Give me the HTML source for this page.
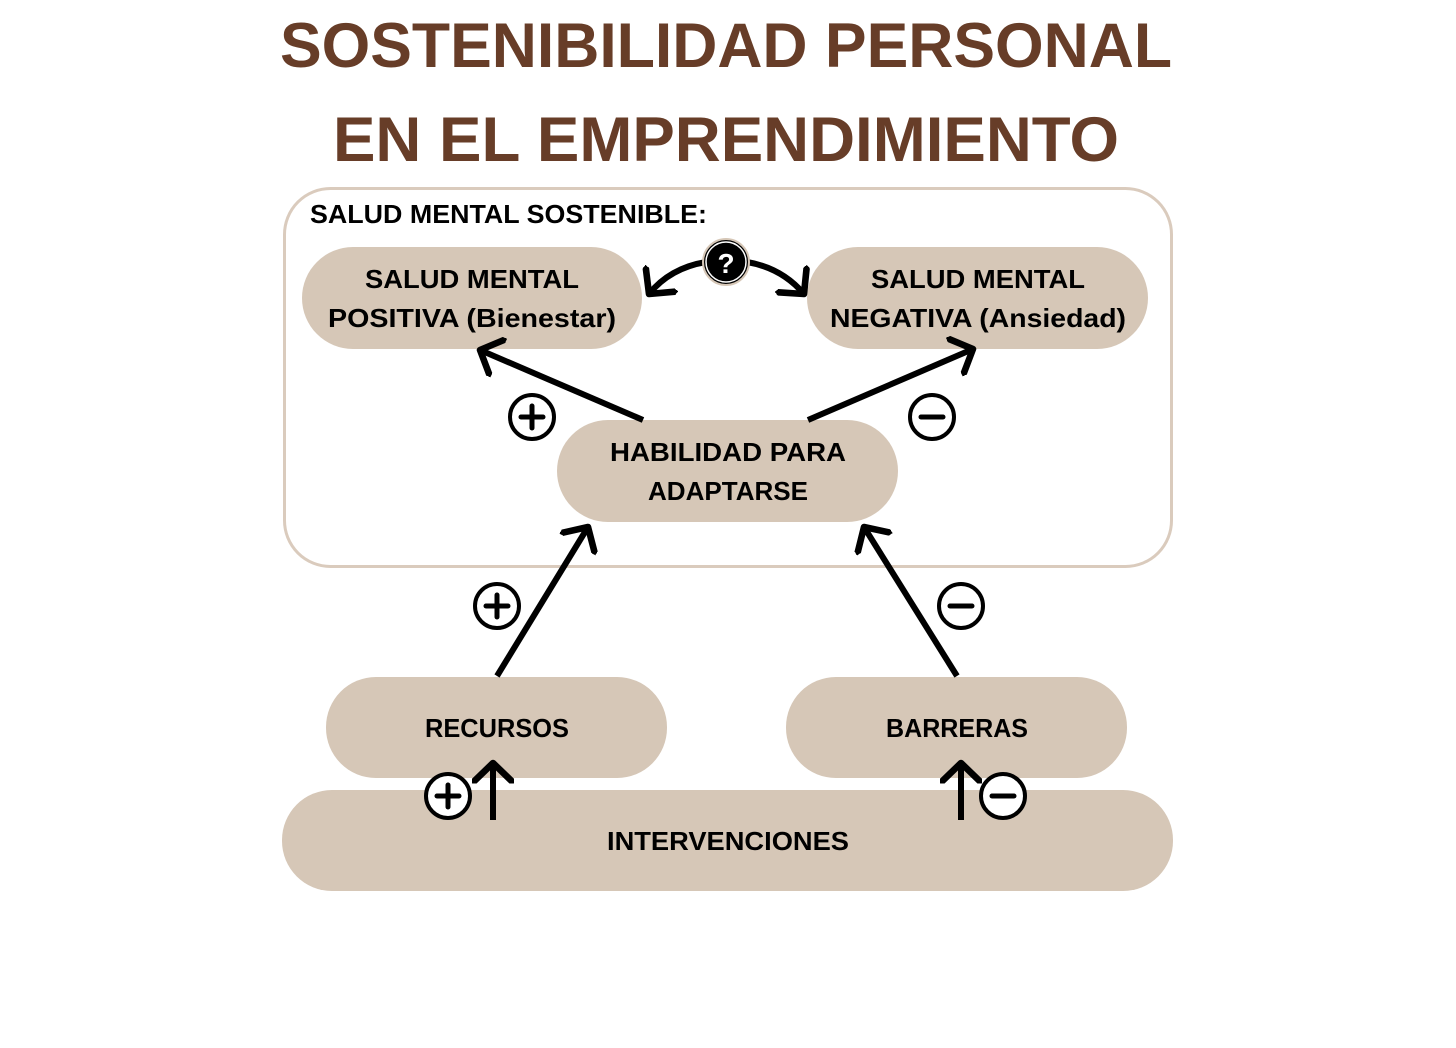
<!DOCTYPE html>
<html><head><meta charset="utf-8"><style>
html,body{margin:0;padding:0;background:#fff;}
svg{display:block;}
text{font-family:"Liberation Sans",sans-serif;font-weight:bold;}
</style></head><body>
<svg width="1456" height="1048" viewBox="0 0 1456 1048" xmlns="http://www.w3.org/2000/svg">
<defs>
<marker id="ah" markerWidth="7" markerHeight="7" refX="3.4" refY="3.5" orient="auto" markerUnits="strokeWidth">
<path d="M0.4,0.4 L3.4,3.5 L0.4,6.6" fill="none" stroke="#000" stroke-width="1.1" stroke-linecap="round" stroke-linejoin="round"/>
</marker>
</defs>
<text x="726" y="67" text-anchor="middle" font-size="63" fill="#673d28" textLength="892" lengthAdjust="spacingAndGlyphs">SOSTENIBILIDAD PERSONAL</text>
<text x="726" y="161" text-anchor="middle" font-size="63" fill="#673d28" textLength="786" lengthAdjust="spacingAndGlyphs">EN EL EMPRENDIMIENTO</text>

<rect x="284.5" y="188.5" width="887" height="378" rx="46" fill="none" stroke="#dacbbd" stroke-width="3"/>
<text x="310" y="223" font-size="26" fill="#000" textLength="397" lengthAdjust="spacingAndGlyphs">SALUD MENTAL SOSTENIBLE:</text>

<g fill="#d6c7b7">
<rect x="302" y="247" width="340" height="102" rx="51"/>
<rect x="807" y="247" width="341" height="102" rx="51"/>
<rect x="557" y="420" width="341" height="102" rx="51"/>
<rect x="326" y="677" width="341" height="101" rx="50"/>
<rect x="786" y="677" width="341" height="101" rx="50"/>
<rect x="282" y="790" width="891" height="101" rx="50"/>
</g>
<g font-size="26" fill="#000" text-anchor="middle">
<text x="472" y="288" textLength="214" lengthAdjust="spacingAndGlyphs">SALUD MENTAL</text>
<text x="472" y="327" textLength="288" lengthAdjust="spacingAndGlyphs">POSITIVA (Bienestar)</text>
<text x="978" y="288" textLength="214" lengthAdjust="spacingAndGlyphs">SALUD MENTAL</text>
<text x="978" y="327" textLength="296" lengthAdjust="spacingAndGlyphs">NEGATIVA (Ansiedad)</text>
<text x="728" y="461" textLength="236" lengthAdjust="spacingAndGlyphs">HABILIDAD PARA</text>
<text x="728" y="500" textLength="160" lengthAdjust="spacingAndGlyphs">ADAPTARSE</text>
<text x="497" y="737" textLength="144" lengthAdjust="spacingAndGlyphs">RECURSOS</text>
<text x="957" y="737" textLength="142" lengthAdjust="spacingAndGlyphs">BARRERAS</text>
<text x="728" y="850" textLength="242" lengthAdjust="spacingAndGlyphs">INTERVENCIONES</text>
</g>

<g stroke="#000" stroke-width="6" fill="none" marker-end="url(#ah)">
<line x1="643" y1="420" x2="480" y2="350"/>
<line x1="808" y1="420" x2="973" y2="349"/>
<line x1="497" y1="676" x2="588" y2="527"/>
<line x1="957" y1="676" x2="864" y2="527"/>
<line x1="493" y1="820" x2="493" y2="763"/>
<line x1="961" y1="820" x2="961" y2="763"/>
<path d="M706,262 Q670,268 649,294"/>
<path d="M747,262 Q782,268 804,294"/>
</g>

<g stroke="#000" stroke-width="4" fill="#fff">
<circle cx="532" cy="417" r="22"/>
<circle cx="932" cy="417" r="22"/>
<circle cx="497" cy="606" r="22"/>
<circle cx="961" cy="606" r="22"/>
<circle cx="448" cy="796" r="22"/>
<circle cx="1003" cy="796" r="22"/>
</g>
<g stroke="#000" stroke-width="5" stroke-linecap="round">
<line x1="521" y1="417" x2="543" y2="417"/><line x1="532" y1="406" x2="532" y2="428"/>
<line x1="921" y1="417" x2="943" y2="417"/>
<line x1="486" y1="606" x2="508" y2="606"/><line x1="497" y1="595" x2="497" y2="617"/>
<line x1="950" y1="606" x2="972" y2="606"/>
<line x1="437" y1="796" x2="459" y2="796"/><line x1="448" y1="785" x2="448" y2="807"/>
<line x1="992" y1="796" x2="1014" y2="796"/>
</g>

<circle cx="726" cy="262" r="23" fill="#000" stroke="#d6c7b7" stroke-width="2"/>
<circle cx="726" cy="262" r="20" fill="#000" stroke="#fff" stroke-width="1.5"/>
<text x="726" y="273" text-anchor="middle" font-size="28" fill="#fff">?</text>
</svg>
</body></html>
